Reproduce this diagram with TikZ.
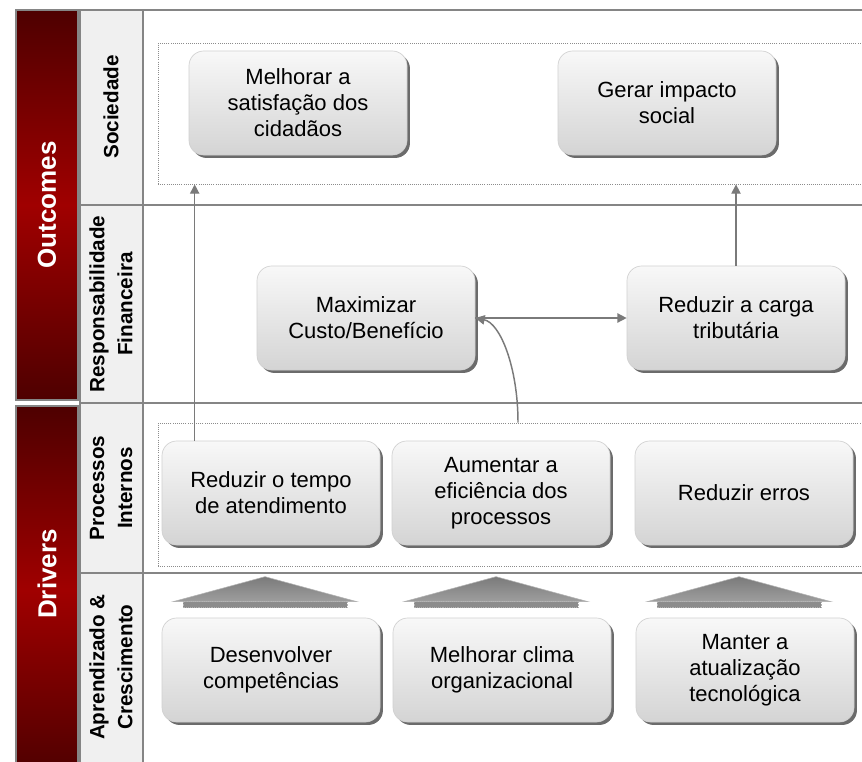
\documentclass[tikz,border=0pt]{standalone}
\usepackage{fontspec}
\setmainfont{Liberation Sans}
\usetikzlibrary{arrows.meta,calc,shadows}
\definecolor{linegray}{HTML}{858585}
\definecolor{arrgray}{HTML}{7A7A7A}
\definecolor{colbg}{HTML}{F0F0F0}
\definecolor{darkred}{HTML}{4E0000}
\definecolor{midred}{HTML}{A00000}
\definecolor{boxtop}{HTML}{F8F8F8}
\definecolor{boxbot}{HTML}{D4D4D4}
\begin{document}
\begin{tikzpicture}[x=0.75pt,y=-0.75pt,
  redbar/.style={top color=darkred, bottom color=darkred, middle color=midred, draw=linegray, line width=1.2pt},
  bartext/.style={rotate=90, text=white, font=\fontsize{19.5}{22}\selectfont\bfseries},
  persp/.style={rotate=90, align=center, text=black, font=\fontsize{15.5}{21}\selectfont\bfseries},
  grid/.style={draw=linegray, line width=1.2pt},
  dotbox/.style={draw=black!45, densely dotted, line width=0.6pt, minimum width=537.75pt, inner sep=0pt},
  goal/.style={rounded corners=11pt, minimum width=163.5pt, minimum height=78pt,
    top color=boxtop, bottom color=boxbot, draw=black!18, line width=0.5pt,
    align=center, text=black, font=\fontsize{16.5}{19.5}\selectfont,
    drop shadow={shadow xshift=2.2pt, shadow yshift=-2.2pt, opacity=1, fill=black!58}},
  link/.style={draw=arrgray, line width=1.1pt, -{Triangle[length=7pt,width=7pt]}},
  uptri/.style={top color=black!52, bottom color=black!38, draw=black!30, line width=0.4pt},
  tristrip/.style={fill=black!45, draw=black!30, densely dotted, line width=0.4pt}
]
\useasboundingbox (0,0) rectangle (862,761);
\clip (0,0) rectangle (862,761);
\fill[white] (0,0) rectangle (862,761);

% left red bars
\path[redbar] (16,10) rectangle (78,400);
\node[bartext] (outc) at (47,205) {Outcomes};
\path[redbar] (16,406) rectangle (78,775);
\node[bartext] (driv) at (47,574) {Drivers};

% perspective column
\path[fill=colbg, grid] (80,10) rectangle (143,775);
\draw[grid] (80,10) -- (880,10);
\draw[grid] (80,205) -- (880,205);
\draw[grid] (80,403) -- (880,403);
\draw[grid] (80,573) -- (880,573);

\node[persp] (psoc) at (111,107) {Sociedade};
\node[persp] (pfin) at (111,304) {Responsabilidade\\Financeira};
\node[persp] (pproc) at (111,488) {Processos\\Internos};
\node[persp] (papr) at (111,667) {Aprendizado \&\\Crescimento};

% dotted group boxes
\node[dotbox, minimum height=105.75pt] (socbox) at (516.5,113.5) {};
\node[dotbox, minimum height=107.25pt] (procbox) at (516.5,494.5) {};

% goal boxes
\node[goal] (sat) at (298,103) {Melhorar a\\satisfação dos\\cidadãos};
\node[goal] (ger) at (667,103) {Gerar impacto\\social};
\node[goal] (max) at (366,318) {Maximizar\\Custo/Benefício};
\node[goal] (car) at (736,318) {Reduzir a carga\\tributária};
\node[goal] (tem) at (271,493) {Reduzir o tempo\\de atendimento};
\node[goal] (aum) at (501,493) {Aumentar a\\eficiência dos\\processos};
\node[goal] (err) at (744,493) {Reduzir erros};
\node[goal] (des) at (271,670) {Desenvolver\\competências};
\node[goal] (cli) at (502,670) {Melhorar clima\\organizacional};
\node[goal] (man) at (745,670) {Manter a\\atualização\\tecnológica};

% up-pointing block arrows
\foreach \n in {des,cli,man}{
  \path[tristrip] ($(\n.north)+(-88,-16)$) rectangle ($(\n.north)+(76,-10)$);
  \path[uptri] ($(\n.north)+(-98,-16)$) -- ($(\n.north)+(-6,-41)$) -- ($(\n.north)+(86,-16)$) -- cycle;
}

% connectors
\coordinate (t1) at ($(tem.north west)+(33,0)$);
\draw[link] (t1) -- (t1 |- socbox.south);
\draw[link] (car.north) -- (car.north |- socbox.south);
\draw[link] (max.east) -- (car.west);
\coordinate (a1) at ($(aum.north)+(17,0)$);
\coordinate (a2) at (a1 |- procbox.north);
\draw[link] (a2) .. controls ($(a2)+(0,-55)$) and ($(max.east)+(25,5)$) .. (max.east);
\end{tikzpicture}
\end{document}
